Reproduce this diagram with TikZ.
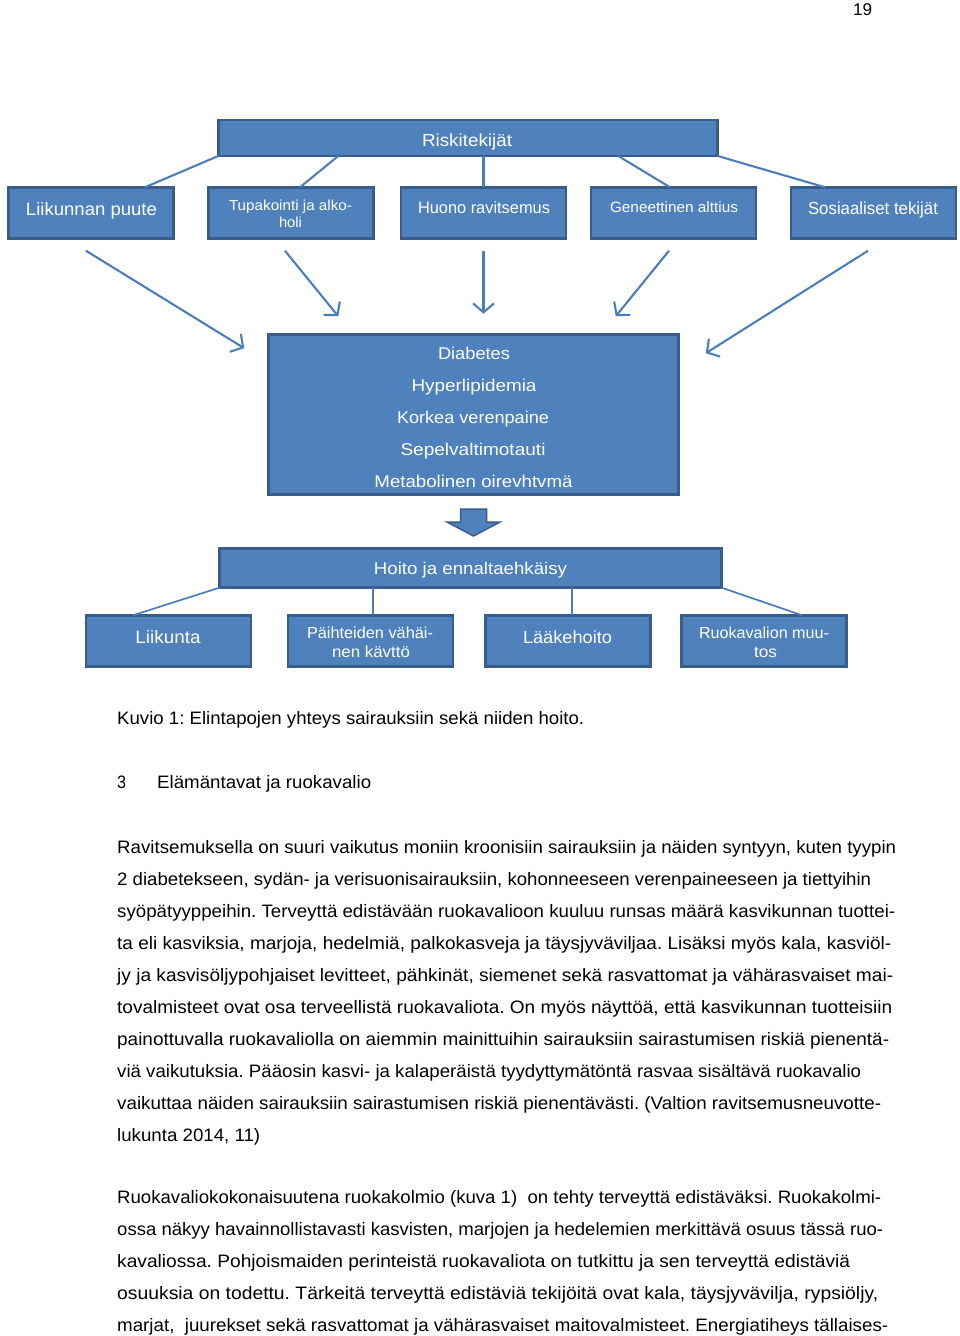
\documentclass[tikz,border=0pt]{standalone}
\usepackage{fontspec}
\setmainfont{Liberation Sans}
\usepackage{graphicx}
\usetikzlibrary{calc,arrows.meta}
\definecolor{boxfill}{HTML}{4F81BD}
\definecolor{boxedge}{HTML}{385D8A}
\definecolor{conncol}{HTML}{4A7EBB}
\frenchspacing
\newcommand{\fw}[2]{\resizebox{#1pt}{\height}{#2}}
\newcommand{\tx}[5]{\node[lab,font=\fontsize{#5}{#5}\selectfont] (#1) at (#2) {\fw{#3}{#4}};}
\newcommand{\bl}[4]{\node[body] (#1) at (117,#2) {\fw{#3}{#4}};}
\begin{document}
\begin{tikzpicture}[x=1pt,y=-1pt,
  bbox/.style={draw=boxedge, fill=boxfill, line width=2.7pt, inner sep=0pt, outer sep=0pt},
  rowbox/.style={bbox, minimum width=165, minimum height=51.5},
  lab/.style={anchor=base, inner sep=0pt, text=white},
  link/.style={draw=conncol, line width=2.1pt},
  thinlink/.style={draw=conncol, line width=1.7pt},
  arr/.style={draw=conncol, line width=2.1pt, -{Straight Barb[length=9pt,width=21pt,line width=2.1pt]}},
  body/.style={anchor=base west, inner sep=0pt, font=\fontsize{18}{20}\selectfont}]
\fill[white] (0,0) rectangle (960,1336);
\useasboundingbox (0,0) rectangle (960,1336);

% page number
\node[anchor=base west, inner sep=0pt, font=\fontsize{17}{17}\selectfont] (pg) at (853,15) {\fw{19}{19}};

% top box
\node[bbox, minimum width=499.5, minimum height=36] (risk) at (468,138) {};
% row 1
\node[rowbox] (liik) at (91,213) {};
\node[rowbox] (tupa) at (291,213) {};
\node[rowbox] (huono) at (483.5,213) {};
\node[rowbox] (gen) at (673.5,213) {};
\node[rowbox] (sos) at (873.5,213) {};
% diseases
\node[bbox, minimum width=410.5, minimum height=160.5] (diab) at (473.5,414.5) {};
% treatment
\node[bbox, minimum width=502.5, minimum height=39.5] (hoito) at (470.5,568) {};
% row 2
\node[rowbox] (li) at (168.5,641) {};
\node[rowbox] (ph) at (370.5,641) {};
\node[rowbox] (la) at (568,641) {};
\node[rowbox] (rk) at (764,641) {};

% texts in boxes
\tx{trisk}{467,146}{90}{Riskitekijät}{17.5}
\tx{tliik}{91.5,215}{131}{Liikunnan puute}{18}
\tx{ttupa1}{290.5,210}{123}{Tupakointi ja alko-}{14.5}
\tx{ttupa2}{290.5,227}{23}{holi}{14.5}
\tx{thuono}{484,213.5}{132}{Huono ravitsemus}{16.5}
\tx{tgen}{674,212}{128}{Geneettinen alttius}{15}
\tx{tsos}{873,214}{130}{Sosiaaliset tekijät}{17.5}
\tx{td1}{474,359}{72}{Diabetes}{17}
\tx{td2}{474,391}{125}{Hyperlipidemia}{17}
\tx{td3}{473,423}{152}{Korkea verenpaine}{17}
\tx{td4}{473,455}{145}{Sepelvaltimotauti}{17}
\tx{td5}{473.5,487}{198}{Metabolinen oirevhtvmä}{17}
\tx{thoito}{470.5,574}{193}{Hoito ja ennaltaehkäisy}{17}
\tx{tli}{168,643}{65}{Liikunta}{18}
\tx{tph1}{370,638}{126}{Päihteiden vähäi-}{16}
\tx{tph2}{371,657}{78}{nen kävttö}{16}
\tx{tla}{567.5,643}{89}{Lääkehoito}{17.5}
\tx{trk1}{764,638}{130}{Ruokavalion muu-}{16}
\tx{trk2}{765.5,657}{23}{tos}{16}

% links risk -> row 1
\draw[link] (risk.south west) -- ($(liik.north)+(54,0)$);
\draw[link] ($(risk.south west)+(120,0)$) -- ($(tupa.north)+(9,0)$);
\draw[link] (huono.north) -- (huono.north |- risk.south);
\draw[link] ($(risk.south west)+(400,0)$) -- ($(gen.north)+(-3.5,0)$);
\draw[link] (risk.south east) -- ($(sos.north)+(-48.5,0)$);

% arrows row 1 -> diseases
\coordinate (a1s) at ($(liik.south)+(-5,12)$);
\coordinate (a1e) at ($(diab.north west)+(-24,14)$);
\coordinate (a2s) at ($(tupa.south)+(-6,12)$);
\coordinate (a2e) at ($(diab.north west)+(70,-18)$);
\coordinate (a3s) at ($(huono.south)+(0,12)$);
\coordinate (a3e) at ($(huono.south)+(0,75)$);
\coordinate (a4s) at ($(gen.south)+(-4.5,12)$);
\coordinate (a4e) at ($(diab.north east)+(-63,-18)$);
\coordinate (a5s) at ($(sos.south)+(-5.5,12)$);
\coordinate (a5e) at ($(diab.north east)+(27,19)$);
\draw[arr] (a1s) -- (a1e);
\draw[arr] (a2s) -- (a2e);
\draw[arr] (a3s) -- (a3e);
\draw[arr] (a4s) -- (a4e);
\draw[arr] (a5s) -- (a5e);

% block arrow
\draw[fill=boxfill, draw=boxedge, line width=1.5pt, line join=miter]
  (460.5,509) -- (486.5,509) -- (486.5,522) -- (500,522) -- (473.5,536)
  -- (447,522) -- (460.5,522) -- cycle;

% links hoito -> row 2
\draw[thinlink] (hoito.south west) -- ($(li.north)+(-35.5,0)$);
\draw[thinlink] ($(ph.north)+(2.5,0)$) coordinate (p2) -- (p2 |- hoito.south);
\draw[thinlink] ($(la.north)+(4,0)$) coordinate (p3) -- (p3 |- hoito.south);
\draw[thinlink] (hoito.south east) -- ($(rk.north)+(38,0)$);

% caption and heading
\node[body] (cap) at (117,724) {\fw{467}{Kuvio 1: Elintapojen yhteys sairauksiin sekä niiden hoito.}};
\node[body] (hnum) at (117,788) {\fw{9}{3}};
\node[body] (htxt) at (157,788) {\fw{214}{Elämäntavat ja ruokavalio}};

% paragraph 1
\bl{b1}{853}{779}{Ravitsemuksella on suuri vaikutus moniin kroonisiin sairauksiin ja näiden syntyyn, kuten tyypin}
\bl{b2}{885}{754}{2 diabetekseen, sydän- ja verisuonisairauksiin, kohonneeseen verenpaineeseen ja tiettyihin}
\bl{b3}{917}{778}{syöpätyyppeihin. Terveyttä edistävään ruokavalioon kuuluu runsas määrä kasvikunnan tuottei-}
\bl{b4}{949}{774}{ta eli kasviksia, marjoja, hedelmiä, palkokasveja ja täysjyväviljaa. Lisäksi myös kala, kasviöl-}
\bl{b5}{981}{776}{jy ja kasvisöljypohjaiset levitteet, pähkinät, siemenet sekä rasvattomat ja vähärasvaiset mai-}
\bl{b6}{1013}{775}{tovalmisteet ovat osa terveellistä ruokavaliota. On myös näyttöä, että kasvikunnan tuotteisiin}
\bl{b7}{1045}{772}{painottuvalla ruokavaliolla on aiemmin mainittuihin sairauksiin sairastumisen riskiä pienentä-}
\bl{b8}{1077}{744}{viä vaikutuksia. Pääosin kasvi- ja kalaperäistä tyydyttymätöntä rasvaa sisältävä ruokavalio}
\bl{b9}{1109}{764}{vaikuttaa näiden sairauksiin sairastumisen riskiä pienentävästi. (Valtion ravitsemusneuvotte-}
\bl{b10}{1141}{143}{lukunta 2014, 11)}

% paragraph 2
\bl{c1}{1203}{764}{Ruokavaliokokonaisuutena ruokakolmio (kuva 1)\ \ on tehty terveyttä edistäväksi. Ruokakolmi-}
\bl{c2}{1235}{766}{ossa näkyy havainnollistavasti kasvisten, marjojen ja hedelemien merkittävä osuus tässä ruo-}
\bl{c3}{1267}{733}{kavaliossa. Pohjoismaiden perinteistä ruokavaliota on tutkittu ja sen terveyttä edistäviä}
\bl{c4}{1299}{761}{osuuksia on todettu. Tärkeitä terveyttä edistäviä tekijöitä ovat kala, täysjyvävilja, rypsiöljy,}
\bl{c5}{1331}{771}{marjat,\ \ juurekset sekä rasvattomat ja vähärasvaiset maitovalmisteet. Energiatiheys tällaises-}
\end{tikzpicture}
\end{document}
